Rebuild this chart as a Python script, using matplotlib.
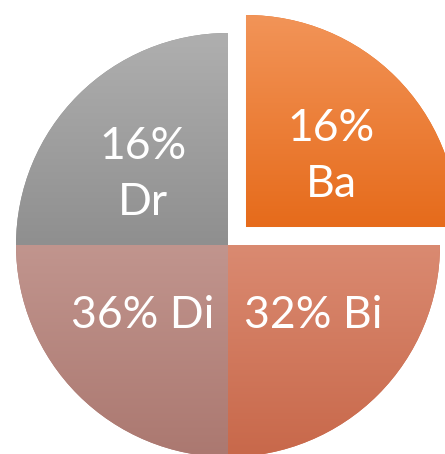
import numpy as np
import matplotlib
matplotlib.use("Agg")
import matplotlib.pyplot as plt
from matplotlib.colors import LinearSegmentedColormap

# slices as drawn (four equal quarters) and the labels printed on them
sizes = [25, 25, 25, 25]
names = ["Ba", "Bi", "Di", "Dr"]
pct_text = ["16%\nBa", "32% Bi", "36% Di", "16%\nDr"]

# top / bottom colours of each slice's gradient
grad_top = ["#F29458", "#DA8A71", "#C1958E", "#AFAFAF"]
grad_bot = ["#E66B1B", "#C8684A", "#AB7870", "#8F8F8F"]

R = 212
# pie() takes explode in data units, so scale by the radius
explode = [0.12 * R, 0, 0, 0]

plt.rcParams['font.family'] = ['Lato', 'DejaVu Sans']

fig = plt.figure(figsize=(4.45, 4.54), dpi=100)
ax = fig.add_axes([0, 0, 1, 1])

labels_iter = iter(pct_text)
wedges, _, autotexts = ax.pie(
    sizes, radius=R, startangle=90, counterclock=False,
    explode=explode, colors=grad_bot,
    autopct=lambda p: next(labels_iter), pctdistance=0.53,
    wedgeprops=dict(linewidth=0),
    textprops=dict(color="white", fontsize=32, linespacing=1.45),
)
ax.set_xlim(-228, 217)
ax.set_ylim(-209, 245)
ax.set_aspect('equal')
ax.axis('off')

# vertical gradient fill clipped to each wedge
for w, top, bot in zip(wedges, grad_top, grad_bot):
    verts = w.get_path().vertices
    x0, x1 = verts[:, 0].min(), verts[:, 0].max()
    y0, y1 = verts[:, 1].min(), verts[:, 1].max()
    cmap = LinearSegmentedColormap.from_list("g", [bot, top])
    grad = np.linspace(0, 1, 256).reshape(-1, 1)
    im = ax.imshow(grad, cmap=cmap, origin='lower', aspect='auto',
                   extent=(x0, x1, y0, y1), zorder=w.get_zorder() + 0.1)
    im.set_clip_path(w)

# labels sit a bit wider than tall inside each quarter
for w, t in zip(wedges, autotexts):
    th = np.deg2rad((w.theta1 + w.theta2) / 2)
    cx, cy = w.center
    t.set_position((cx + 0.57 * R * np.cos(th), cy + 0.47 * R * np.sin(th)))
    t.set_zorder(5)

fig.savefig("out.png", dpi=100)
